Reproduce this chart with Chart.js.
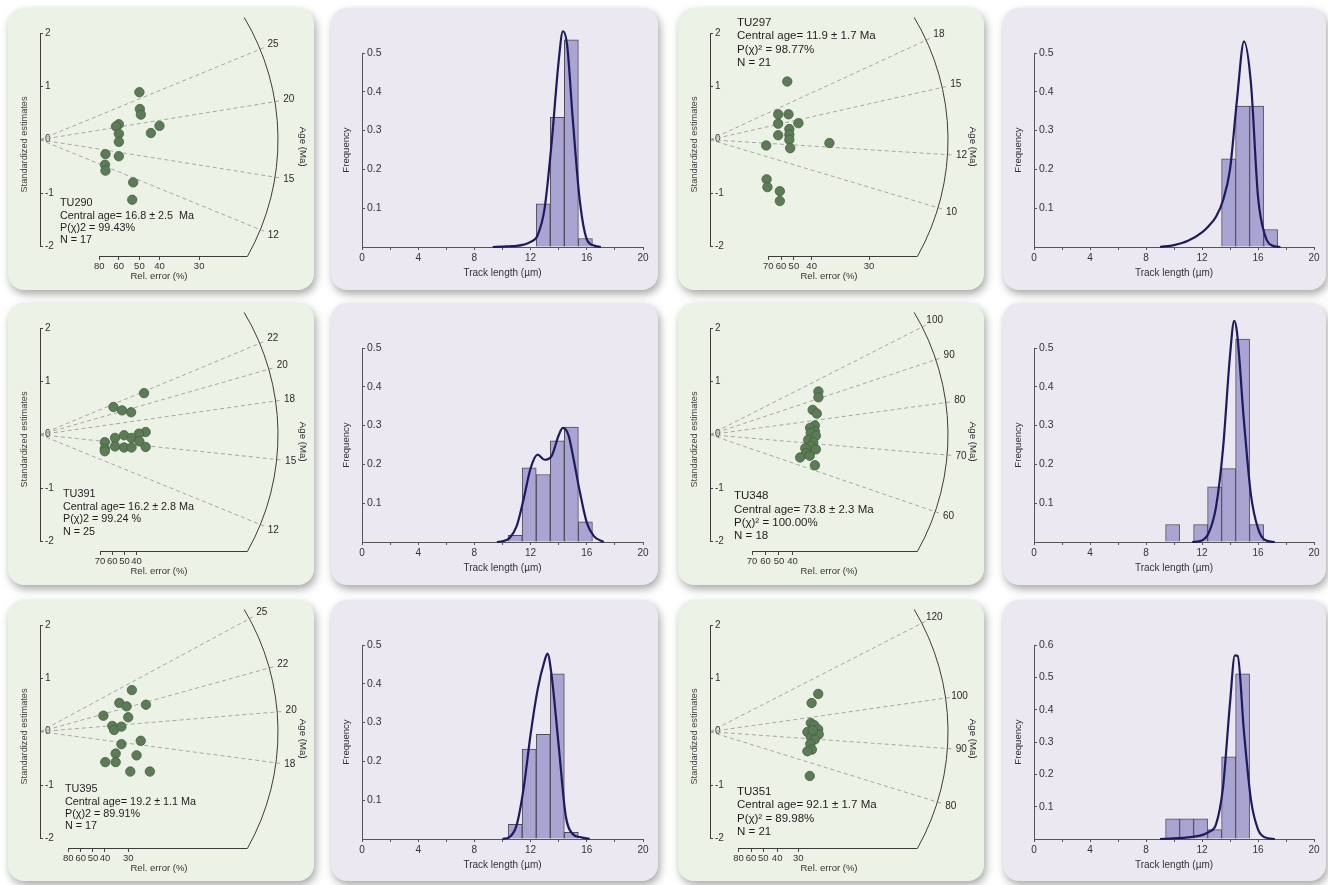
<!DOCTYPE html>
<html>
<head>
<meta charset="utf-8">
<title>Radial plots and track length distributions</title>
<script src="https://cdn.jsdelivr.net/npm/chart.js@4.4.1/dist/chart.umd.min.js"></script>
<style>
  html, body { margin: 0; padding: 0; background: #ffffff; }
  #sheet { position: relative; width: 1328px; height: 885px; overflow: hidden; }
  .panel { position: absolute; border-radius: 16px; box-shadow: 2px 4px 8px rgba(0, 0, 0, 0.35); }
  .panel.radial { background: #edf2e6; }
  .panel.hist { background: #ece8f2; }
  .panel canvas { position: absolute; left: 0; top: 0; }
</style>
</head>
<body>
<div id="sheet"></div>
<script>
// ---- radial plots (one per sample) ----
const sampleNames = ["TU290", "TU297", "TU391", "TU348", "TU395", "TU351"];
const centralAgeText = ["16.8 ± 2.5  Ma", "11.9 ± 1.7 Ma", "16.2 ± 2.8 Ma", "73.8 ± 2.3 Ma", "19.2 ± 1.1 Ma", "92.1 ± 1.7 Ma"];
const chiText = ["P(χ)2 = 99.43%", "P(χ)² = 98.77%", "P(χ)2 = 99.24 %", "P(χ)² = 100.00%", "P(χ)2 = 89.91%", "P(χ)² = 89.98%"];
const grainCount = [17, 21, 25, 18, 17, 21];
const refAges = [17.3, 12.6, 16.2, 73.7, 19.2, 93.2];   // age of the horizontal ray
const ageTicks = [[12, 15, 20, 25], [10, 12, 15, 18], [12, 15, 18, 20, 22], [60, 70, 80, 90, 100], [18, 20, 22, 25], [80, 90, 100, 120]];
const relErrTicks = [[80, 60, 50, 40, 30], [70, 60, 50, 40, 30], [70, 60, 50, 40], [70, 60, 50, 40], [80, 60, 50, 40, 30], [80, 60, 50, 40, 30]];
// where each rel. error label sits on the precision axis
const relErrTickAt = [
  [1.24, 1.65, 2.08, 2.50, 3.33],
  [1.41, 1.72, 2.03, 2.46, 3.85],
  [1.53, 1.84, 2.15, 2.46],
  [1.31, 1.73, 2.15, 2.57],
  [1.08, 1.56, 2.03, 2.49, 3.38],
  [1.08, 1.56, 2.02, 2.55, 3.35]
];
const precisionMax = [4.98, 5.76, 6.06, 7.42, 9.12, 9.04];

// grain precision (1/sigma) and standardized estimate
const dotsPrecision = [
  [2.08, 2.09, 2.11, 1.65, 1.59, 1.65, 1.65, 2.32, 2.50, 1.37, 1.65, 1.36, 1.37, 1.95, 1.93],
  [1.87, 1.65, 1.90, 1.65, 2.14, 1.92, 1.92, 1.65, 1.92, 1.36, 1.94, 2.89, 1.37, 1.39, 1.69, 1.69],
  [2.65, 1.87, 2.09, 2.32, 2.69, 2.52, 2.14, 2.33, 1.91, 1.65, 2.53, 1.91, 2.14, 2.33, 2.69, 1.65, 1.65],
  [3.38, 3.38, 3.20, 3.33, 3.27, 3.12, 3.27, 3.14, 3.30, 3.06, 3.22, 3.14, 2.97, 3.30, 2.99, 3.11, 2.81, 3.27],
  [3.52, 3.04, 3.32, 4.06, 2.43, 3.38, 2.77, 2.84, 3.12, 3.12, 3.86, 2.90, 3.70, 2.50, 2.90, 3.46, 4.21],
  [4.11, 3.86, 3.83, 3.96, 4.11, 3.70, 4.02, 4.13, 3.83, 3.98, 3.81, 3.87, 3.70, 3.79, 3.90]
];
const dotsStdEst = [
  [0.89, 0.575, 0.47, 0.29, 0.25, 0.11, -0.04, 0.125, 0.26, -0.27, -0.31, -0.47, -0.58, -0.8, -1.125],
  [1.09, 0.476, 0.476, 0.30, 0.31, 0.20, 0.095, 0.083, 0.0, -0.108, -0.159, -0.063, -0.743, -0.889, -0.965, -1.149],
  [0.78, 0.52, 0.456, 0.42, 0.05, 0.02, -0.01, -0.06, -0.06, -0.14, -0.125, -0.22, -0.24, -0.24, -0.23, -0.26, -0.31],
  [0.81, 0.70, 0.466, 0.396, 0.172, 0.128, 0.064, 0.032, -0.019, -0.096, -0.14, -0.21, -0.255, -0.274, -0.35, -0.395, -0.427, -0.574],
  [0.78, 0.54, 0.475, 0.506, 0.30, 0.27, 0.108, 0.032, 0.095, -0.234, -0.171, -0.41, -0.443, -0.57, -0.57, -0.747, -0.747],
  [0.708, 0.537, 0.164, 0.12, 0.044, -0.006, -0.05, -0.05, -0.10, -0.145, -0.227, -0.335, -0.367, -0.83, 0.025]
];

// ---- track length histograms ----
const binCenters = [
  [12.9, 13.9, 14.9, 15.9],
  [13.9, 14.9, 15.9, 16.9],
  [10.9, 11.9, 12.9, 13.9, 14.9, 15.9],
  [9.9, 11.9, 12.9, 13.9, 14.9, 15.9],
  [10.9, 11.9, 12.9, 13.9, 14.9],
  [9.9, 10.9, 11.9, 12.9, 13.9, 14.9]
];
const binFreq = [
  [0.111, 0.334, 0.534, 0.022],
  [0.227, 0.363, 0.363, 0.045],
  [0.017, 0.191, 0.174, 0.261, 0.296, 0.052],
  [0.045, 0.045, 0.142, 0.189, 0.523, 0.045],
  [0.038, 0.232, 0.27, 0.426, 0.017],
  [0.062, 0.062, 0.062, 0.029, 0.254, 0.511]
];
const curveLength = [
  [9.3, 10, 10.5, 11, 11.5, 12, 12.5, 13, 13.5, 14, 14.3, 14.6, 15, 15.5, 16, 16.5, 17],
  [9, 10, 11, 12, 12.5, 13, 13.5, 14, 14.5, 15, 15.5, 16, 16.5, 17, 17.6],
  [9.6, 10, 10.5, 11, 11.5, 12, 12.5, 13, 13.5, 14, 14.3, 14.7, 15, 15.5, 16, 16.5, 17.2],
  [11.3, 12, 12.5, 13, 13.5, 14, 14.3, 14.5, 15, 15.5, 16, 16.5, 17.2],
  [10, 10.5, 11, 11.5, 12, 12.5, 13, 13.2, 13.5, 14, 14.5, 15, 15.5, 16.2],
  [9, 10, 11, 12, 12.5, 13, 13.5, 14, 14.35, 14.55, 15, 15.5, 16, 16.5, 17.2]
];
const curveFreq = [
  [0, 0.001, 0.002, 0.003, 0.006, 0.013, 0.03, 0.1, 0.27, 0.48, 0.556, 0.52, 0.33, 0.12, 0.02, 0.004, 0],
  [0, 0.005, 0.016, 0.038, 0.055, 0.078, 0.12, 0.2, 0.38, 0.53, 0.42, 0.13, 0.03, 0.004, 0],
  [0, 0.002, 0.01, 0.04, 0.11, 0.19, 0.225, 0.212, 0.222, 0.275, 0.294, 0.275, 0.225, 0.13, 0.05, 0.015, 0],
  [0, 0.004, 0.025, 0.09, 0.24, 0.48, 0.57, 0.54, 0.31, 0.12, 0.035, 0.005, 0],
  [0, 0.005, 0.035, 0.13, 0.27, 0.385, 0.46, 0.478, 0.42, 0.24, 0.06, 0.013, 0.005, 0],
  [0, 0.002, 0.005, 0.012, 0.022, 0.045, 0.16, 0.42, 0.568, 0.566, 0.33, 0.12, 0.03, 0.005, 0]
];
const freqMax = [0.5, 0.5, 0.5, 0.5, 0.5, 0.6];

// ---- page layout ----
const colX = [8, 331, 678, 1003];
const colW = [306, 327, 306, 323];
const rowY = [8, 303, 600];
const rowH = [282, 282, 281];
// annotation block of each radial plot: first line (y units), x offset, font size, line gap
const noteY = [-1.19, 2.19, -1.12, -1.15, -1.08, -1.12];
const noteDx = [20, 27, 23, 24, 25, 27];
const noteSize = [10.8, 11.5, 10.8, 11.5, 10.8, 11.5];
const noteGap = [12.4, 13.3, 12.4, 13.3, 12.4, 13.6];

const FONT = '"Liberation Sans", Arial, Helvetica, sans-serif';
Chart.defaults.font.family = FONT;
Chart.defaults.font.size = 10;
Chart.defaults.color = "#333";

const sheet = document.getElementById("sheet");

function makePanel(kind, col, row) {
  const div = document.createElement("div");
  div.className = "panel " + kind;
  div.style.left = colX[col] + "px";
  div.style.top = rowY[row] + "px";
  div.style.width = colW[col] + "px";
  div.style.height = rowH[row] + "px";
  const cv = document.createElement("canvas");
  cv.width = colW[col];
  cv.height = rowH[row];
  div.appendChild(cv);
  sheet.appendChild(div);
  return cv;
}

function radialGeometry(chart) {
  const { chartArea: a, scales: { x, y } } = chart;
  const ox = x.getPixelForValue(0), oy = y.getPixelForValue(0);
  const R = x.getPixelForValue(x.max) - ox;
  const sx = x.getPixelForValue(1) - ox, sy = oy - y.getPixelForValue(1);
  const thBot = Math.asin(Math.min(1, (a.bottom - oy) / R));
  const thTop = Math.asin(Math.min(1, (a.bottom - oy + 6) / R));
  return { ox, oy, R, sx, sy, thBot, thTop };
}

function rayDir(g, age, ref) {
  const k = Math.log(age / ref);
  const dx = g.sx, dy = -k * g.sy, len = Math.hypot(dx, dy);
  return [dx / len, dy / len];
}

// arc, age rays, bars and notes of the radial plot
function radialDecor(i) {
  return {
    id: "radialDecor",
    beforeDatasetsDraw(chart) {
      const { ctx, chartArea: a, scales: { x, y } } = chart;
      const g = radialGeometry(chart);
      ctx.save();
      ctx.lineWidth = 1;
      ctx.strokeStyle = "#a6a6a6";
      ctx.setLineDash([4, 3]);
      ageTicks[i].forEach(t => {
        const [ux, uy] = rayDir(g, t, refAges[i]);
        ctx.beginPath();
        ctx.moveTo(g.ox, g.oy);
        ctx.lineTo(g.ox + ux * (g.R + 7), g.oy + uy * (g.R + 7));
        ctx.stroke();
      });
      ctx.setLineDash([]);
      ctx.strokeStyle = "#3c3c3c";
      ctx.beginPath();
      ctx.arc(g.ox, g.oy, g.R, -g.thTop, g.thBot);
      ctx.stroke();
      // rel. error axis line, from the first label to the arc
      const x0 = x.getPixelForValue(relErrTickAt[i][0]);
      ctx.beginPath();
      ctx.moveTo(x0, a.bottom + 0.5);
      ctx.lineTo(g.ox + g.R * Math.cos(g.thBot), a.bottom + 0.5);
      ctx.stroke();
      // +-2 bar
      ctx.beginPath();
      ctx.moveTo(a.left + 0.5, y.getPixelForValue(2));
      ctx.lineTo(a.left + 0.5, y.getPixelForValue(-2));
      ctx.stroke();
      ctx.restore();
    },
    afterDatasetsDraw(chart) {
      const { ctx, scales: { y } } = chart;
      const g = radialGeometry(chart);
      ctx.save();
      ctx.fillStyle = "#2a2a2a";
      ctx.font = "10px " + FONT;
      ctx.textAlign = "center";
      ctx.textBaseline = "middle";
      ageTicks[i].forEach(t => {
        const [ux, uy] = rayDir(g, t, refAges[i]);
        ctx.fillText(String(t), g.ox + ux * (g.R + 14), g.oy + uy * (g.R + 14));
      });
      ctx.save();
      ctx.translate(g.ox + g.R + 25, g.oy + 7);
      ctx.rotate(Math.PI / 2);
      ctx.font = "9.7px " + FONT;
      ctx.fillText("Age (Ma)", 0, 0);
      ctx.restore();
      const lines = [sampleNames[i], "Central age= " + centralAgeText[i], chiText[i], "N = " + grainCount[i]];
      ctx.font = noteSize[i] + "px " + FONT;
      ctx.fillStyle = "#1e1e1e";
      ctx.textAlign = "left";
      const y0 = y.getPixelForValue(noteY[i]);
      lines.forEach((s, j) => ctx.fillText(s, g.ox + noteDx[i], y0 + j * noteGap[i]));
      ctx.restore();
    }
  };
}

function drawRadial(i) {
  const row = Math.floor(i / 2), col = (i % 2) * 2;
  const cv = makePanel("radial", col, row);
  const W = cv.width, H = cv.height;
  const left = 32, top = 25, bottom = 248, R = 238, padL = 7;
  const pts = dotsPrecision[i].map((p, j) => ({ x: p, y: dotsStdEst[i][j] }));
  new Chart(cv, {
    type: "scatter",
    data: {
      datasets: [{
        data: pts,
        pointRadius: 4.7,
        pointBackgroundColor: "#5c7c57",
        pointBorderColor: "#44613e",
        pointBorderWidth: 0.8,
        clip: false
      }]
    },
    options: {
      responsive: false,
      animation: false,
      events: [],
      layout: { padding: { left: padL, top: top, right: W - left - R, bottom: H - bottom - 30 } },
      plugins: { legend: { display: false }, tooltip: { enabled: false } },
      scales: {
        x: {
          type: "linear",
          min: 0,
          max: precisionMax[i],
          afterBuildTicks: s => { s.ticks = relErrTickAt[i].map(v => ({ value: v })); },
          afterFit: s => { s.height = 30; },
          ticks: { autoSkip: false, maxRotation: 0, padding: 1, font: { size: 9.5 }, callback: (v, k) => String(relErrTicks[i][k]) },
          grid: { drawOnChartArea: false, tickLength: 4, tickColor: "#444" },
          border: { display: false },
          title: { display: true, text: "Rel. error (%)", font: { size: 9.5 }, padding: { top: 0, bottom: 4 } }
        },
        y: {
          min: -2.18,
          max: 2,
          afterBuildTicks: s => { s.ticks = [-2, -1, 0, 1, 2].map(v => ({ value: v })); },
          afterFit: s => { s.width = left - padL; },
          ticks: { mirror: true, padding: 5 },
          grid: { drawOnChartArea: false, tickLength: -3, tickColor: "#444" },
          border: { display: false },
          title: { display: true, text: "Standardized estimates", font: { size: 9.2 }, color: "#444" }
        }
      }
    },
    plugins: [radialDecor(i)]
  });
}

function drawHist(i) {
  const row = Math.floor(i / 2), col = (i % 2) * 2 + 1;
  const cv = makePanel("hist", col, row);
  const W = cv.width, H = cv.height;
  const left = 31, top = 45, bottom = 239, padL = 6;
  const rightGap = col === 3 ? 12 : 15;
  const bars = binCenters[i].map((c, j) => ({ x: c, y: binFreq[i][j] }));
  const curve = curveLength[i].map((l, j) => ({ x: l, y: curveFreq[i][j] }));
  new Chart(cv, {
    type: "bar",
    data: {
      datasets: [
        {
          type: "line",
          data: curve,
          borderColor: "#1d1a5e",
          borderWidth: 2.2,
          pointRadius: 0,
          cubicInterpolationMode: "monotone",
          clip: false,
          order: 0
        },
        {
          type: "bar",
          data: bars,
          backgroundColor: "#a9a4d2",
          borderColor: "#4f4d5c",
          borderWidth: 1,
          barPercentage: 1,
          categoryPercentage: 1,
          clip: false,
          order: 1
        }
      ]
    },
    options: {
      responsive: false,
      animation: false,
      events: [],
      layout: { padding: { left: padL, top: top, right: rightGap, bottom: H - bottom - 36 } },
      plugins: { legend: { display: false }, tooltip: { enabled: false } },
      scales: {
        x: {
          type: "linear",
          min: 0,
          max: 20,
          offset: false,
          afterFit: s => { s.height = 36; },
          ticks: { stepSize: 2, autoSkip: false, maxRotation: 0, padding: 2, callback: v => (v % 4 === 0 ? String(v) : "") },
          grid: { offset: false, drawOnChartArea: false, tickLength: 3, tickColor: "#555" },
          border: { color: "#555" },
          title: { display: true, text: "Track length (µm)", padding: { top: 2, bottom: 4 } }
        },
        y: {
          min: 0,
          max: freqMax[i],
          afterFit: s => { s.width = left - padL; },
          ticks: { stepSize: 0.1, mirror: true, padding: 5, font: { size: 10.5 }, callback: v => (v === 0 ? "" : v.toFixed(1)) },
          grid: { drawOnChartArea: false, tickLength: -3, tickColor: "#555" },
          border: { color: "#555" },
          title: { display: true, text: "Frequency", font: { size: 9.6 } }
        }
      }
    }
  });
}

for (let i = 0; i < sampleNames.length; i++) {
  drawRadial(i);
  drawHist(i);
}
</script>
</body>
</html>
